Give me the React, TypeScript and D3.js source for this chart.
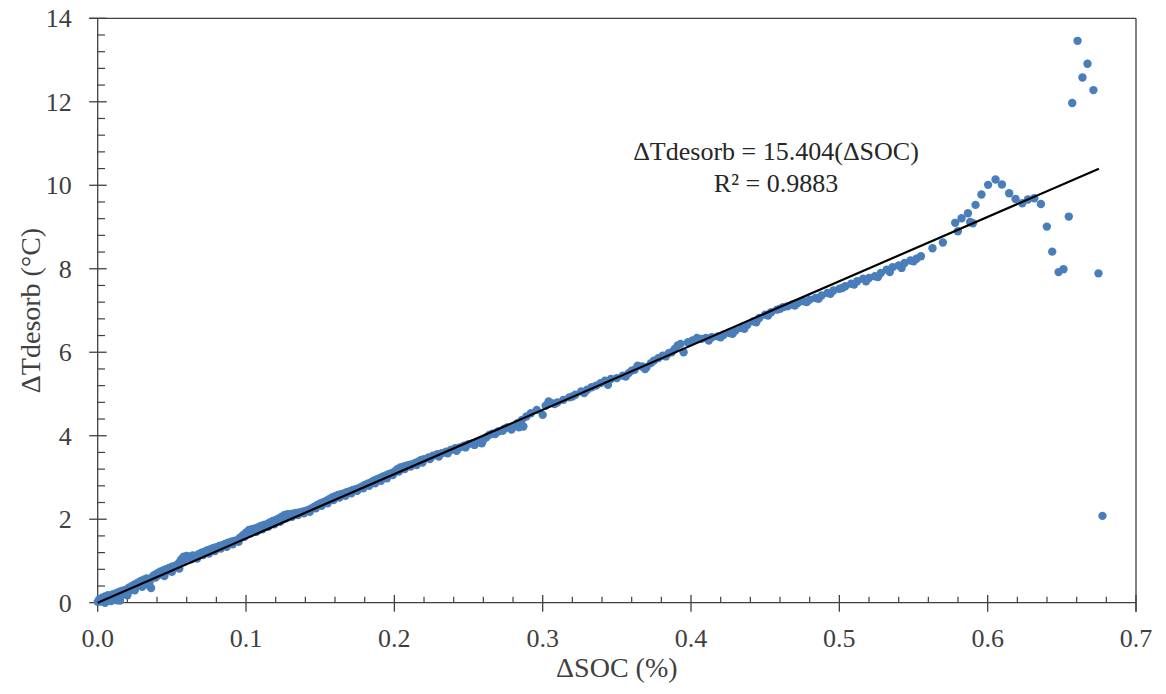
import React from "react";
import * as d3 from "d3";

const dSOC: number[] = [
  0.000, 0.001, 0.002, 0.003, 0.004, 0.005, 0.006, 0.007, 0.008, 0.009, 0.010, 0.011, 0.012, 0.013, 0.014, 0.015, 0.016, 0.017, 0.018, 0.019, 0.020,
  0.021, 0.022, 0.023, 0.024, 0.025, 0.026, 0.027, 0.028, 0.029, 0.030, 0.031, 0.032, 0.033, 0.034, 0.035, 0.036, 0.037, 0.038, 0.039, 0.040,
  0.041, 0.042, 0.043, 0.044, 0.045, 0.046, 0.047, 0.048, 0.049, 0.050, 0.051, 0.052, 0.053, 0.054, 0.055, 0.056, 0.057, 0.058, 0.059, 0.060,
  0.062, 0.064, 0.066, 0.068, 0.070, 0.072, 0.074, 0.076, 0.078, 0.080,
  0.082, 0.084, 0.086, 0.088, 0.090, 0.092, 0.094, 0.096, 0.098, 0.100,
  0.102, 0.104, 0.106, 0.108, 0.110, 0.112, 0.114, 0.116, 0.118, 0.120,
  0.122, 0.124, 0.126, 0.128, 0.130, 0.132, 0.134, 0.136, 0.138, 0.140,
  0.142, 0.144, 0.146, 0.148, 0.150, 0.152, 0.154, 0.156, 0.158, 0.160,
  0.162, 0.164, 0.166, 0.168, 0.170, 0.172, 0.174, 0.176, 0.178, 0.180,
  0.182, 0.184, 0.186, 0.188, 0.190, 0.192, 0.194, 0.196, 0.198, 0.200,
  0.202, 0.204, 0.206, 0.208, 0.210, 0.212, 0.214, 0.216, 0.218, 0.220,
  0.223, 0.226, 0.229, 0.232, 0.235, 0.238, 0.241, 0.244, 0.247, 0.250,
  0.253, 0.256, 0.258, 0.260, 0.262, 0.264, 0.266, 0.270, 0.273, 0.276, 0.279, 0.280, 0.283, 0.286, 0.287, 0.289, 0.292, 0.296, 0.300, 0.302, 0.304, 0.306,
  0.310, 0.314, 0.318, 0.322, 0.326, 0.330, 0.333, 0.336, 0.339, 0.342, 0.346, 0.350,
  0.354, 0.358, 0.360, 0.364, 0.367, 0.370, 0.373, 0.375, 0.378, 0.381, 0.385, 0.389, 0.391, 0.393, 0.395, 0.398, 0.401,
  0.404, 0.407, 0.410, 0.414, 0.418, 0.422, 0.426, 0.430, 0.434, 0.438, 0.442, 0.446, 0.450,
  0.454, 0.458, 0.462, 0.465, 0.468, 0.472, 0.476, 0.480, 0.484, 0.488, 0.492, 0.496, 0.500,
  0.504, 0.508, 0.512, 0.516, 0.520, 0.524, 0.528, 0.532, 0.536, 0.540, 0.544, 0.548, 0.552, 0.555,
  0.5628, 0.5698, 0.5781, 0.5799, 0.5824, 0.5867, 0.5882, 0.5900, 0.5918, 0.5958, 0.6003, 0.6053, 0.6096, 0.6145, 0.6188, 0.6233, 0.6271, 0.6314, 0.6359,
  0.6399, 0.6435, 0.6478, 0.6511, 0.6547, 0.6570, 0.6606, 0.6639, 0.6673, 0.6713, 0.6747, 0.6774,
  // second pass (scatter below/around the main band)
  0.005, 0.010, 0.015, 0.020, 0.025, 0.030, 0.035, 0.045, 0.050, 0.055, 0.058, 0.063, 0.067, 0.071, 0.075, 0.079,
  0.083, 0.087, 0.091, 0.095, 0.099, 0.103, 0.107, 0.111, 0.115, 0.119, 0.123, 0.127, 0.131, 0.135, 0.139,
  0.143, 0.147, 0.151, 0.155, 0.159, 0.163, 0.167, 0.171, 0.175, 0.179, 0.183, 0.187, 0.191, 0.195, 0.199,
  0.203, 0.207, 0.211, 0.215, 0.219, 0.224, 0.230, 0.236, 0.242, 0.248, 0.254, 0.259, 0.268, 0.274, 0.284,
  0.308, 0.320, 0.328, 0.344, 0.356, 0.362, 0.369, 0.383, 0.387, 0.412, 0.420, 0.428, 0.436, 0.444, 0.452, 0.460,
  0.470, 0.478, 0.486, 0.494, 0.502, 0.510, 0.518, 0.526, 0.534, 0.542, 0.550,
];

const dT: number[] = [
  0.02, 0.08, 0.03, 0.12, 0.06, 0.15, 0.05, 0.18, 0.10, 0.04, 0.20, 0.08, 0.22, 0.06, 0.25, 0.12, 0.28, 0.20, 0.30, 0.24, 0.32,
  0.36, 0.30, 0.40, 0.34, 0.44, 0.38, 0.48, 0.44, 0.52, 0.46, 0.55, 0.50, 0.58, 0.53, 0.40, 0.35, 0.62, 0.66, 0.60, 0.70,
  0.66, 0.74, 0.70, 0.77, 0.73, 0.80, 0.76, 0.83, 0.79, 0.86, 0.82, 0.88, 0.85, 0.92, 0.96, 1.02, 1.06, 1.10, 1.08, 1.12,
  1.10, 1.13, 1.12, 1.16, 1.20, 1.22, 1.26, 1.28, 1.31, 1.33,
  1.36, 1.38, 1.41, 1.44, 1.46, 1.48, 1.50, 1.56, 1.62, 1.68,
  1.74, 1.76, 1.78, 1.80, 1.84, 1.86, 1.88, 1.92, 1.96, 1.98,
  2.02, 2.06, 2.10, 2.12, 2.12, 2.14, 2.15, 2.16, 2.18, 2.20,
  2.22, 2.26, 2.30, 2.34, 2.38, 2.41, 2.44, 2.48, 2.52, 2.55,
  2.58, 2.60, 2.62, 2.65, 2.67, 2.70, 2.72, 2.74, 2.78, 2.82,
  2.85, 2.88, 2.92, 2.95, 2.98, 3.02, 3.04, 3.08, 3.10, 3.14,
  3.20, 3.24, 3.26, 3.28, 3.30, 3.32, 3.35, 3.38, 3.42, 3.44,
  3.48, 3.52, 3.56, 3.58, 3.62, 3.66, 3.70, 3.72, 3.76, 3.80,
  3.82, 3.84, 3.88, 3.90, 3.96, 4.02, 4.05, 4.10, 4.12, 4.20, 4.15, 4.22, 4.30, 4.38, 4.22, 4.46, 4.54, 4.62, 4.50, 4.72, 4.82, 4.78,
  4.80, 4.86, 4.92, 4.98, 5.06, 5.10, 5.16, 5.20, 5.26, 5.32, 5.36, 5.38,
  5.44, 5.50, 5.56, 5.68, 5.66, 5.64, 5.74, 5.80, 5.86, 5.92, 5.98, 6.08, 6.16, 6.20, 6.00, 6.24, 6.28,
  6.34, 6.32, 6.34, 6.36, 6.38, 6.42, 6.46, 6.52, 6.58, 6.66, 6.74, 6.82, 6.90,
  6.96, 7.02, 7.08, 7.10, 7.14, 7.18, 7.22, 7.26, 7.30, 7.36, 7.42, 7.48, 7.52,
  7.58, 7.64, 7.70, 7.76, 7.78, 7.82, 7.90, 7.98, 8.04, 8.08, 8.14, 8.20, 8.24, 8.30,
  8.49, 8.63, 9.10, 8.90, 9.21, 9.33, 9.12, 9.09, 9.53, 9.78, 10.01, 10.14, 10.02, 9.81, 9.67, 9.57, 9.66, 9.69, 9.55,
  9.01, 8.41, 7.92, 7.99, 9.25, 11.97, 13.46, 12.58, 12.91, 12.28, 7.89, 2.08,
  // second pass
  0.00, 0.12, 0.05, 0.18, 0.30, 0.38, 0.50, 0.64, 0.74, 0.82, 0.98, 1.04, 1.06, 1.14, 1.18, 1.24,
  1.30, 1.34, 1.40, 1.46, 1.58, 1.66, 1.70, 1.76, 1.82, 1.88, 1.94, 2.02, 2.06, 2.10, 2.14,
  2.18, 2.26, 2.32, 2.38, 2.46, 2.52, 2.56, 2.62, 2.68, 2.74, 2.80, 2.86, 2.92, 2.98, 3.06,
  3.14, 3.20, 3.26, 3.30, 3.36, 3.44, 3.50, 3.58, 3.64, 3.72, 3.78, 3.82, 4.04, 4.16, 4.20,
  4.76, 4.94, 5.02, 5.22, 5.42, 5.58, 5.60, 5.90, 6.00, 6.28, 6.36, 6.44, 6.56, 6.72, 6.88, 7.04,
  7.12, 7.20, 7.28, 7.40, 7.54, 7.62, 7.70, 7.80, 7.92, 8.02, 8.18,
];

const slope = 15.404;
const r2Text = "R² = 0.9883";
const eqText = "ΔTdesorb = 15.404(ΔSOC)";
const trendRange: number[] = [0, 0.675];
const xTicks: number[] = [0, 0.1, 0.2, 0.3, 0.4, 0.5, 0.6, 0.7];
const yTicks: number[] = [0, 2, 4, 6, 8, 10, 12, 14];
const xLabel = "ΔSOC (%)";
const yLabel = "ΔTdesorb (°C)";

const W = 1166;
const H = 694;
const L = 97.7, R = 1136, T = 18.3, B = 602.7;
const AX = "#404040";
const FONT = "'Liberation Serif', 'Times New Roman', serif";

export default function App() {
  const x = d3.scaleLinear().domain([0, 0.7]).range([L, R]);
  const y = d3.scaleLinear().domain([0, 14]).range([B, T]);
  const xMinor = d3.range(0, 0.7001, 0.02).filter((v) => Math.abs(Math.round(v * 10) - v * 10) > 1e-6);
  const yMinor = d3.range(0, 14.001, 0.4).filter((v) => Math.abs(Math.round(v / 2) * 2 - v) > 1e-6);
  const line = d3.line<number>().x((d) => x(d)).y((d) => y(slope * d));
  const pts = dSOC.map((v, i) => [v, dT[i]]);

  return (
    <svg width={W} height={H} style={{ position: "absolute", left: 0, top: 0, background: "#fff" }} fontFamily={FONT}>
      <rect x={0} y={0} width={W} height={H} fill="#fff" />
      <line x1={L - 8.5} y1={T} x2={R} y2={T} stroke={AX} strokeWidth={1.3} />
      <line x1={R} y1={T} x2={R} y2={B + 9} stroke={AX} strokeWidth={1.3} />
      <line x1={L} y1={T} x2={L} y2={B} stroke={AX} strokeWidth={1.3} />
      <line x1={L} y1={B} x2={R} y2={B} stroke={AX} strokeWidth={1.3} />
      {yTicks.map((t) => (
        <g key={"yt" + t}>
          <line x1={L - 8.5} x2={L + 9} y1={y(t)} y2={y(t)} stroke={AX} strokeWidth={1.3} />
          <text x={L - 26} y={y(t)} dy="0.34em" textAnchor="end" fontSize={26} fill={AX}>
            {d3.format("d")(t)}
          </text>
        </g>
      ))}
      {yMinor.map((t) => (
        <line key={"ym" + t} x1={L} x2={L + 7.3} y1={y(t)} y2={y(t)} stroke={AX} strokeWidth={1.2} />
      ))}
      {xTicks.map((t) => (
        <g key={"xt" + t}>
          <line x1={x(t)} x2={x(t)} y1={B - 7.7} y2={B + 9} stroke={AX} strokeWidth={1.3} />
          <text x={x(t)} y={B + 44} textAnchor="middle" fontSize={26} fill={AX}>
            {d3.format(".1f")(t)}
          </text>
        </g>
      ))}
      {xMinor.map((t) => (
        <line key={"xm" + t} x1={x(t)} x2={x(t)} y1={B - 6} y2={B} stroke={AX} strokeWidth={1.2} />
      ))}
      {pts.map((p, i) => (
        <circle key={i} cx={x(p[0])} cy={y(p[1])} r={4.2} fill="#4a7ebb" />
      ))}
      <path d={line(trendRange) || ""} stroke="#000" strokeWidth={2.2} fill="none" />
      <text x={776} y={160} textAnchor="middle" fontSize={26} fill="#262626">{eqText}</text>
      <text x={776} y={192} textAnchor="middle" fontSize={26} fill="#262626">{r2Text}</text>
      <text x={(L + R) / 2} y={677} textAnchor="middle" fontSize={28} fill={AX}>{xLabel}</text>
      <text transform={`translate(40,${(T + B) / 2}) rotate(-90)`} textAnchor="middle" fontSize={28} fill={AX}>{yLabel}</text>
    </svg>
  );
}
